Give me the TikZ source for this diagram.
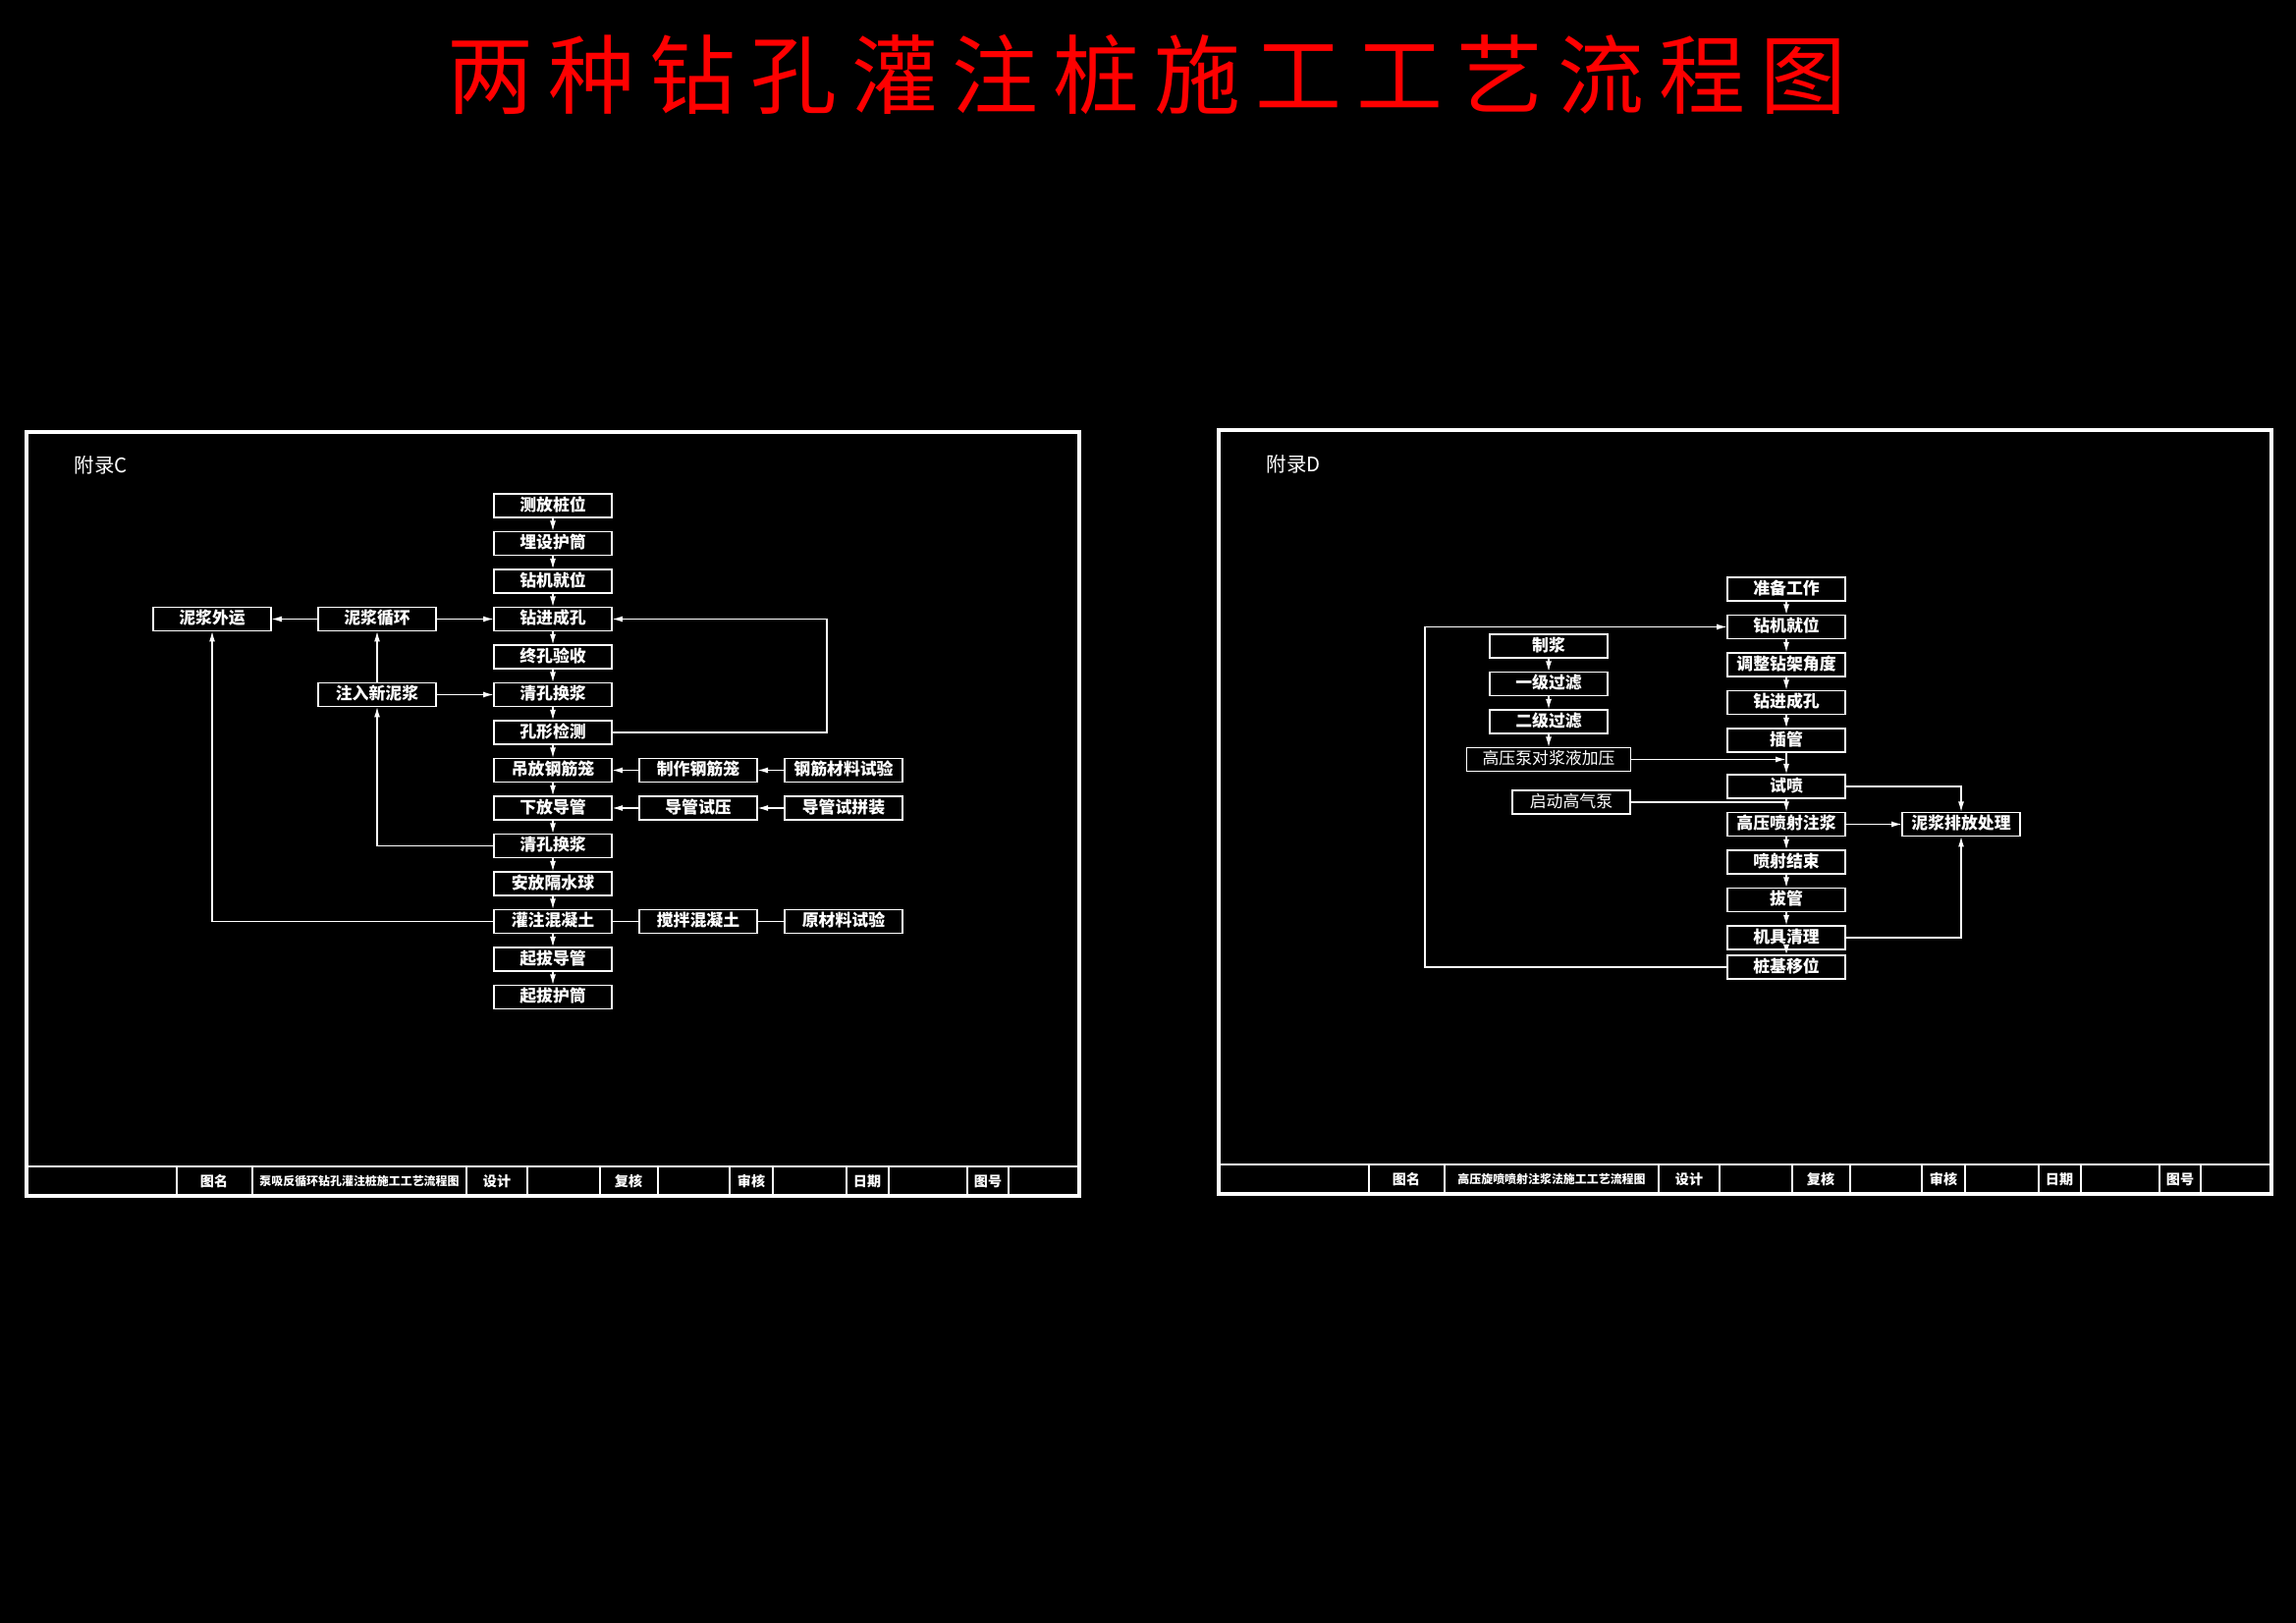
\documentclass[tikz,border=0pt]{standalone}
\usepackage{fontspec}
\setmainfont{Noto Sans CJK SC}
\usetikzlibrary{arrows.meta,positioning}

\begin{document}
\begin{tikzpicture}[
  x=0.1mm, y=-0.1mm, color=white,
  node distance=1.45mm and 2.8mm,
  box/.style={draw,line width=0.45pt,minimum height=2.4mm,minimum width=12mm,inner sep=0pt,outer sep=0pt,
    text height=1.35mm,text depth=0.3mm,font=\fontsize{4.8pt}{5pt}\selectfont\bfseries},
  plain/.style={box,font=\fontsize{4.8pt}{5pt}\selectfont},
  arr/.style={-{Latex[length=1.1mm,width=0.6mm]},line width=0.45pt},
  link/.style={line width=0.45pt},
  frame/.style={line width=1.2pt},
  cell/.style={font=\fontsize{4pt}{4pt}\selectfont\bfseries},
  tag/.style={anchor=west,inner sep=0pt,font=\fontsize{5.8pt}{6pt}\selectfont}
]
\fill[black] (0,0) rectangle (2338,1653);

\node[red,font=\fontsize{25pt}{26pt}\selectfont\addfontfeature{LetterSpace=17}] (title) at (1168,76) {两种钻孔灌注桩施工工艺流程图};

% two sheets with title rows
\foreach \fx/\fy in {0/0,1214/-2} {
  \begin{scope}[shift={(\fx,\fy)}]
    \draw[frame] (27,440) rectangle (1099,1218);
    \draw[link] (27,1188) -- (1099,1188);
    \foreach \dx in {180,257,475,537,611,670,743,787,862,905,985,1027}
      \draw[link] (\dx,1188) -- (\dx,1218);
  \end{scope}
}

% sheet C
\node[tag] (fuluC) at (75,474) {附录C};
\node[cell] (mingC) at (218,1203) {图名};
\node[cell,font=\fontsize{3.4pt}{4pt}\selectfont\bfseries] (nameC) at (366,1203) {泵吸反循环钻孔灌注桩施工工艺流程图};
\node[cell] (shejiC) at (506,1203) {设计};
\node[cell] (fuheC) at (640,1203) {复核};
\node[cell] (shenheC) at (765,1203) {审核};
\node[cell] (riqiC) at (883,1203) {日期};
\node[cell] (tuhaoC) at (1006,1203) {图号};

\node[box] (q1) at (563,515) {测放桩位};
\node[box,below=of q1] (q2) {埋设护筒};
\node[box,below=of q2] (q3) {钻机就位};
\node[box,below=of q3] (q4) {钻进成孔};
\node[box,below=of q4] (q5) {终孔验收};
\node[box,below=of q5] (q6) {清孔换浆};
\node[box,below=of q6] (q7) {孔形检测};
\node[box,below=of q7] (q8) {吊放钢筋笼};
\node[box,below=of q8] (q9) {下放导管};
\node[box,below=of q9] (q10) {清孔换浆};
\node[box,below=of q10] (q11) {安放隔水球};
\node[box,below=of q11] (q12) {灌注混凝土};
\node[box,below=of q12] (q13) {起拔导管};
\node[box,below=of q13] (q14) {起拔护筒};

\node[box,left=5.9mm of q4] (mc) {泥浆循环};
\node[box,left=4.8mm of mc] (mw) {泥浆外运};
\node[box,left=5.9mm of q6] (zr) {注入新泥浆};
\node[box,right=of q8] (zz) {制作钢筋笼};
\node[box,right=of zz] (gj) {钢筋材料试验};
\node[box,right=of q9] (dy) {导管试压};
\node[box,right=of dy] (dp) {导管试拼装};
\node[box,right=of q12] (jb) {搅拌混凝土};
\node[box,right=of jb] (yc) {原材料试验};

\foreach \a/\b in {q1/q2,q2/q3,q3/q4,q4/q5,q5/q6,q6/q7,q7/q8,q8/q9,q9/q10,q10/q11,q11/q12,q12/q13,q13/q14}
  \draw[arr] (\a) -- (\b);
\draw[arr] (mc) -- (mw); \draw[arr] (mc) -- (q4);
\draw[arr] (zr) -- (mc); \draw[arr] (zr) -- (q6);
\draw[arr] (q10.west) -| (zr.south);
\draw[arr] (q12.west) -| (mw.south);
\draw[arr] (q7.east) -- ++(219,0) |- (q4.east);
\draw[arr] (zz) -- (q8); \draw[arr] (gj) -- (zz);
\draw[arr] (dy) -- (q9); \draw[arr] (dp) -- (dy);
\draw[link] (jb) -- (q12); \draw[link] (yc) -- (jb);

% sheet D
\node[tag] (fuluD) at (1289,473) {附录D};
\node[cell] (mingD) at (1432,1201) {图名};
\node[cell,font=\fontsize{3.4pt}{4pt}\selectfont\bfseries] (nameD) at (1580,1201) {高压旋喷喷射注浆法施工工艺流程图};
\node[cell] (shejiD) at (1720,1201) {设计};
\node[cell] (fuheD) at (1854,1201) {复核};
\node[cell] (shenheD) at (1979,1201) {审核};
\node[cell] (riqiD) at (2097,1201) {日期};
\node[cell] (tuhaoD) at (2220,1201) {图号};

\node[box] (r1) at (1819,600) {准备工作};
\node[box,below=of r1] (r2) {钻机就位};
\node[box,below=of r2] (r3) {调整钻架角度};
\node[box,below=of r3] (r4) {钻进成孔};
\node[box,below=of r4] (r5) {插管};
\node[box,below=2.3mm of r5] (r6) {试喷};
\node[box,below=of r6] (r7) {高压喷射注浆};
\node[box,below=of r7] (r8) {喷射结束};
\node[box,below=of r8] (r9) {拔管};
\node[box,below=of r9] (r10) {机具清理};
\node[box,below=0.6mm of r10] (r11) {桩基移位};

\node[box] (s1) at (1577,658) {制浆};
\node[box,below=of s1] (s2) {一级过滤};
\node[box,below=of s2] (s3) {二级过滤};
\node[plain,minimum width=16.7mm,below=of s3] (s4) {高压泵对浆液加压};
\node[plain] (qb) at (1600,817) {启动高气泵};
\node[box,right=5.8mm of r7] (pf) {泥浆排放处理};

\foreach \a/\b in {r1/r2,r2/r3,r3/r4,r4/r5,r5/r6,r6/r7,r7/r8,r8/r9,r9/r10,r10/r11,s1/s2,s2/s3,s3/s4}
  \draw[arr] (\a) -- (\b);
\draw[arr] (s4.east) -- (s4.east -| r5.south);
\draw[link] (qb.east) -- (qb.east -| r6.south);
\draw[arr] (r6.east) -| (pf.north);
\draw[arr] (r7) -- (pf);
\draw[arr] (r10.east) -| (pf.south);
\draw[arr] (r11.west) -- ++(-308,0) |- (r2.west);
\end{tikzpicture}
\end{document}
